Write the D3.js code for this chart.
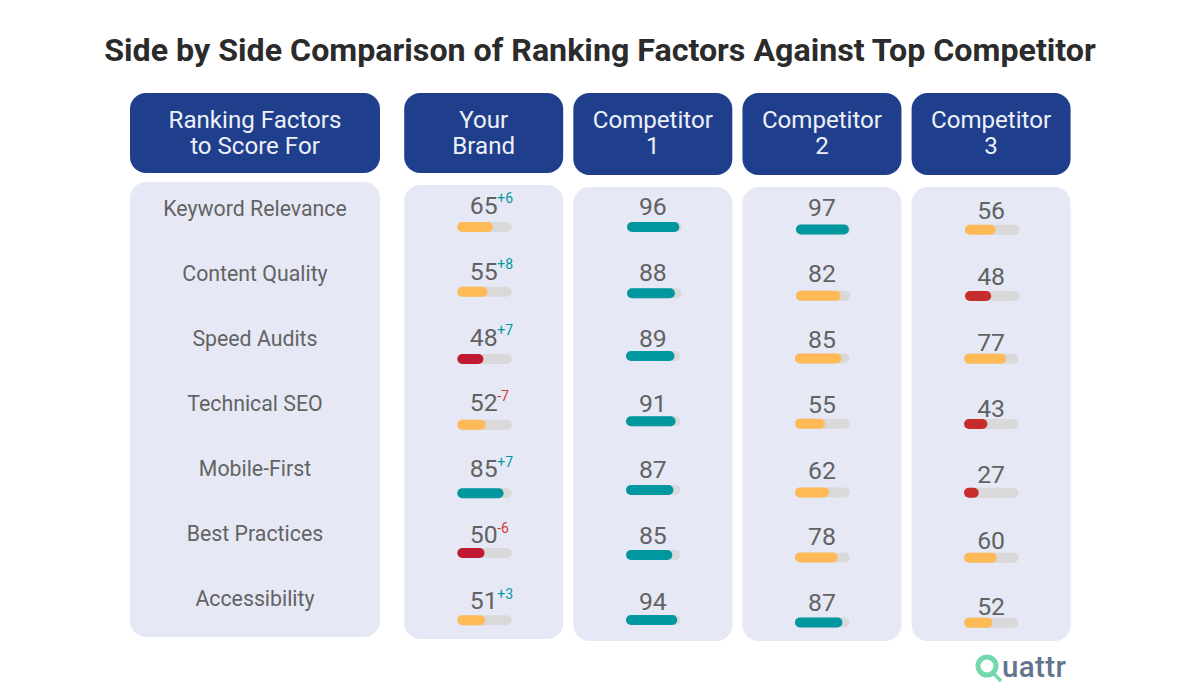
<!DOCTYPE html>
<html>
<head>
<meta charset="utf-8">
<script src="https://cdn.jsdelivr.net/npm/d3@7"></script>
<style>
  html, body { margin: 0; padding: 0; background: #fff; }
  text { font-family: Roboto, sans-serif; }
</style>
</head>
<body>
<div class="chart"></div>
<script>
const title = 'Side by Side Comparison of Ranking Factors Against Top Competitor';
const factorHeader = ['Ranking Factors', 'to Score For'];
const factors = ['Keyword Relevance', 'Content Quality', 'Speed Audits', 'Technical SEO', 'Mobile-First', 'Best Practices', 'Accessibility'];
const brands = ['Your Brand', 'Competitor 1', 'Competitor 2', 'Competitor 3'];

const yourBrand = [65, 55, 48, 52, 85, 50, 51];
const competitor1 = [96, 88, 89, 91, 87, 85, 94];
const competitor2 = [97, 82, 85, 55, 62, 78, 87];
const competitor3 = [56, 48, 77, 43, 27, 60, 52];
const yourBrandDelta = ['+6', '+8', '+7', '-7', '+7', '-6', '+3'];

// colour band of each bar, the picture does not follow one threshold (85 is teal and orange)
const yourBrandBand = ['mid', 'mid', 'low', 'mid', 'high', 'low', 'mid'];
const competitor1Band = ['high', 'high', 'high', 'high', 'high', 'high', 'high'];
const competitor2Band = ['high', 'mid', 'mid', 'mid', 'mid', 'mid', 'high'];
const competitor3Band = ['mid', 'low2', 'mid', 'low2', 'low2', 'mid', 'mid'];

const scores = [yourBrand, competitor1, competitor2, competitor3];
const bandsOf = [yourBrandBand, competitor1Band, competitor2Band, competitor3Band];

const width = 1200, height = 700;

const svg = d3.select('.chart')
    .append('svg')
    .attr('width', width)
    .attr('height', height)
    .style('display', 'block');

const colorScale = d3.scaleOrdinal()
    .domain(['high', 'mid', 'low', 'low2'])
    .range(['#00989e', '#ffb957', '#bf1a32', '#c62d2b']);

const xScale = d3.scaleBand()
    .domain(brands)
    .range([404.2, 1070.6])
    .paddingInner(0.06);

const barScale = d3.scaleLinear().domain([0, 100]).range([0, 54.5]);

// the panels sit slightly out of line in the original, so each column has its own start
const headerBottom = [173, 175, 175, 175];
const bodyTop = [185, 187, 187, 187];
const bodyBottom = [639, 641, 641, 641];
const textTop = [205, 206, 207, 210.3];
const barTop = [227, 227, 229.4, 229.7];
const barLeft = [457.3, 626, 795, 964];

// hand placed bars: small shift of each row off the even spacing
const brandNudge = [0, -0.8, 1, 1.2, 4.3, -1.5, 0.3];
const rivalNudge = [0, 0.8, -2, -2.2, 1, 0.5, 0];
const rivalLeftNudge = [1, 1, 0, 0, 0, 0, 0];

const rowIndex = factors.map((d, i) => i);

svg.append('text')
    .text(title)
    .attr('x', 600)
    .attr('y', 61)
    .attr('text-anchor', 'middle')
    .attr('font-size', 32.2)
    .attr('font-weight', 700)
    .attr('fill', '#2b2b2b');

// factor column
svg.append('rect')
    .attr('x', 130).attr('y', 93).attr('width', 250).attr('height', 80)
    .attr('rx', 16).attr('fill', '#1f3f8c');

svg.selectAll('.factor-head')
    .data(factorHeader)
    .enter()
    .append('text')
    .attr('class', 'factor-head')
    .text(d => d)
    .attr('x', 255)
    .attr('y', (d, i) => 128 + i * 26)
    .attr('text-anchor', 'middle')
    .attr('font-size', 24.1)
    .attr('fill', '#eef0f8');

svg.append('rect')
    .attr('x', 130).attr('y', 182).attr('width', 250).attr('height', 455)
    .attr('rx', 16).attr('fill', '#e6e9f5');

const factorY = d3.scalePoint().domain(factors).range([209, 599]);

svg.selectAll('.factor')
    .data(factors)
    .enter()
    .append('text')
    .attr('class', 'factor')
    .text(d => d)
    .attr('x', 255)
    .attr('y', d => factorY(d))
    .attr('dy', '0.35em')
    .attr('text-anchor', 'middle')
    .attr('font-size', 21.3)
    .attr('fill', '#636363');

// brand columns
brands.forEach((brand, c) => {
    const g = svg.append('g').attr('class', 'brand');
    const cx = xScale(brand) + xScale.bandwidth() / 2;
    const textY = d3.scalePoint().domain(rowIndex).range([textTop[c], textTop[c] + 395.6]);
    const barY = d3.scalePoint().domain(rowIndex).range([barTop[c], barTop[c] + 393]);
    const nudge = c === 0 ? brandNudge : rivalNudge;
    const leftOf = d => barLeft[c] + (c === 0 ? 0 : rivalLeftNudge[d]);

    g.append('rect')
        .attr('x', xScale(brand)).attr('y', 93)
        .attr('width', xScale.bandwidth()).attr('height', headerBottom[c] - 93)
        .attr('rx', 16).attr('fill', '#1f3f8c');

    g.selectAll('.head')
        .data(brand.split(' '))
        .enter()
        .append('text')
        .attr('class', 'head')
        .text(d => d)
        .attr('x', cx)
        .attr('y', (d, i) => 128 + i * 26)
        .attr('text-anchor', 'middle')
        .attr('font-size', 24.1)
        .attr('fill', '#eef0f8');

    g.append('rect')
        .attr('x', xScale(brand)).attr('y', bodyTop[c])
        .attr('width', xScale.bandwidth()).attr('height', bodyBottom[c] - bodyTop[c])
        .attr('rx', 16).attr('fill', '#e6e9f5');

    g.selectAll('.track')
        .data(rowIndex)
        .enter()
        .append('rect')
        .attr('class', 'track')
        .attr('x', leftOf)
        .attr('y', d => barY(d) + nudge[d] - 5)
        .attr('width', barScale(100))
        .attr('height', 10)
        .attr('rx', 5)
        .attr('fill', '#d9d9d9');

    g.selectAll('.bar')
        .data(rowIndex)
        .enter()
        .append('rect')
        .attr('class', 'bar')
        .attr('x', leftOf)
        .attr('y', d => barY(d) + nudge[d] - 5)
        .attr('width', d => barScale(scores[c][d]))
        .attr('height', 10)
        .attr('rx', 5)
        .attr('fill', d => colorScale(bandsOf[c][d]));

    g.selectAll('.score')
        .data(rowIndex)
        .enter()
        .append('text')
        .attr('class', 'score')
        .text(d => scores[c][d])
        .attr('x', cx)
        .attr('y', d => textY(d))
        .attr('dy', '0.35em')
        .attr('text-anchor', 'middle')
        .attr('font-size', 24.8)
        .attr('fill', '#626262');

    if (c === 0) {
        g.selectAll('.delta')
            .data(rowIndex)
            .enter()
            .append('text')
            .attr('class', 'delta')
            .text(d => yourBrandDelta[d])
            .attr('x', cx + 13.5)
            .attr('y', d => textY(d) - 6.5)
            .attr('dy', '0.35em')
            .attr('font-size', 14)
            .attr('fill', d => yourBrandDelta[d][0] === '+' ? '#00989e' : '#d03a3a');
    }
});

// logo
const logo = svg.append('g').attr('class', 'logo');
logo.append('circle')
    .attr('cx', 987).attr('cy', 666).attr('r', 9)
    .attr('fill', 'none').attr('stroke', '#73d9ad').attr('stroke-width', 5);
logo.append('line')
    .attr('x1', 992).attr('y1', 672).attr('x2', 1001).attr('y2', 681)
    .attr('stroke', '#73d9ad').attr('stroke-width', 3.5);
logo.append('text')
    .text('uattr')
    .attr('x', 1002)
    .attr('y', 677)
    .attr('font-size', 29.5)
    .attr('font-weight', 500)
    .attr('letter-spacing', 0.4)
    .attr('fill', '#64748d');
</script>
</body>
</html>
